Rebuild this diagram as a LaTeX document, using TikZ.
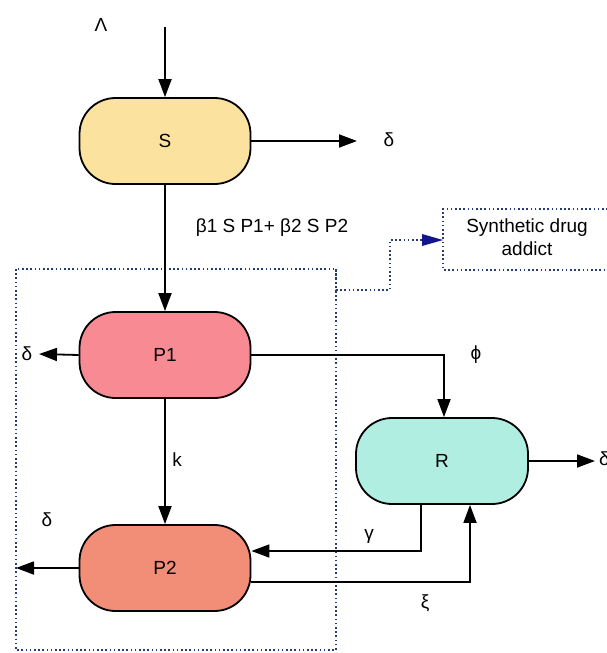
\documentclass[tikz,border=0pt]{standalone}
\usepackage{fontspec}
\setmainfont{Liberation Sans}
\usetikzlibrary{arrows.meta}
\definecolor{sfill}{RGB}{251,226,158}
\definecolor{pafill}{RGB}{248,138,148}
\definecolor{pbfill}{RGB}{242,142,120}
\definecolor{rfill}{RGB}{176,238,226}
\definecolor{dotc}{RGB}{40,60,110}
\definecolor{navyarr}{RGB}{20,20,140}
\tikzset{
  comp/.style={draw=black, line width=1.8pt, rounded corners=36pt, minimum width=171pt, minimum height=86pt, inner sep=0pt, font=\fontsize{19}{23}\selectfont},
  arr/.style={draw=black, line width=1.8pt, -{Triangle[length=18pt,width=13pt]}},
  lbl/.style={inner sep=0pt, font=\fontsize{19}{23}\selectfont},
  dotline/.style={draw=dotc, line width=1.9pt, dash pattern=on 1.6pt off 2.6pt},
}
\begin{document}
\begin{tikzpicture}[x=1pt,y=-1pt]
\useasboundingbox (0,0) rectangle (606,653);
\fill[white] (0,0) rectangle (606,653);
% dotted grouping box and link
\draw[dotline] (16,269) rectangle (336,650);
\coordinate (g1) at (336,269);
\coordinate (syn) at (443,240);
\draw[dotline] (g1) -- (336,290) -- (390,290) -- (390,240) -- (425,240);
\draw[draw=none, fill=navyarr] (443,240) -- (422,234) -- (422,246) -- cycle;
\draw[dotline] (612,209) -- (443,209) -- (443,270) -- (612,270);
\node[lbl, align=center] (syntxt) at (527,237) {Synthetic drug\\addict};
% compartments
\node[comp, fill=sfill] (S) at (165,141) {S};
\node[comp, fill=pafill] (P1) at (165,355) {P1};
\node[comp, fill=pbfill] (P2) at (165,568) {P2};
\node[comp, fill=rfill, minimum width=172pt] (R) at (442,461) {R};
% coordinates
\coordinate (lamtop) at (165,27);
\coordinate (sd) at (357,141);
\coordinate (p1d) at (39,354);
\coordinate (p2d) at (16,568);
\coordinate (rd) at (595,461);
% arrows
\draw[arr] (lamtop) -- (S.north);
\draw[arr] (S.east) -- (sd);
\draw[arr] (S.south) -- (P1.north);
\draw[arr] (P1.west) -- (p1d);
\draw[arr] (P1.east) -| ([xshift=2pt]R.north);
\draw[arr] (P1.south) -- (P2.north);
\draw[arr] (P2.west) -- (p2d);
\draw[arr] (R.east) -- (rd);
\draw[arr] ([xshift=-21pt]R.south) |- ([yshift=17pt]P2.east);
\draw[arr] ([yshift=-14pt]P2.east) -| ([xshift=28pt]R.south);
% labels
\node[lbl] (lam) at (101,25) {Λ};
\node[lbl] (ds) at (389,140) {δ};
\node[lbl] (beta) at (272,228) {β1 S P1+ β2 S P2};
\node[lbl] (dp1) at (27,354) {δ};
\node[lbl] (phi) at (476,355) {ϕ};
\node[lbl] (k) at (177,460) {k};
\node[lbl, anchor=west] (dr) at (599,459) {δ};
\node[lbl] (dp2) at (47,520) {δ};
\node[lbl] (gam) at (369,536) {γ};
\node[lbl] (xi) at (425,603) {ξ};
\end{tikzpicture}
\end{document}
